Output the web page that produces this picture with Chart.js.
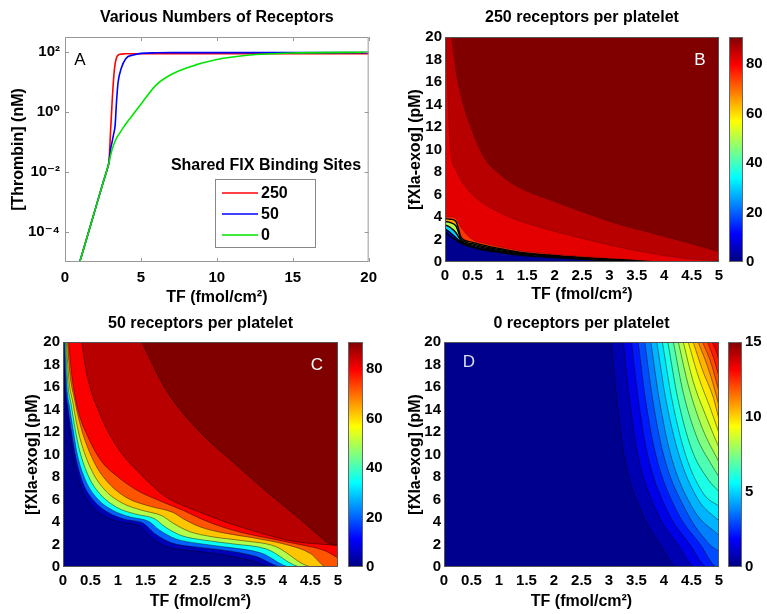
<!DOCTYPE html>
<html>
<head>
<meta charset="utf-8">
<script src="https://cdn.jsdelivr.net/npm/chart.js@4.4.1/dist/chart.umd.min.js"></script>
<style>
  html, body { margin: 0; padding: 0; background: #fff; }
  #fig { position: relative; width: 767px; height: 614px; overflow: hidden; }
  .panel { position: absolute; }
</style>
</head>
<body>
<div id="fig">
  <div class="panel" style="left:0;top:0;width:384px;height:307px"><canvas id="chartA"></canvas></div>
  <div class="panel" style="left:384px;top:0;width:345px;height:307px"><canvas id="chartB"></canvas></div>
  <div class="panel" style="left:700px;top:0;width:67px;height:307px"><canvas id="cbarB"></canvas></div>
  <div class="panel" style="left:0;top:307px;width:384px;height:307px"><canvas id="chartC"></canvas></div>
  <div class="panel" style="left:320px;top:307px;width:64px;height:307px"><canvas id="cbarC"></canvas></div>
  <div class="panel" style="left:384px;top:307px;width:345px;height:307px"><canvas id="chartD"></canvas></div>
  <div class="panel" style="left:700px;top:307px;width:67px;height:307px"><canvas id="cbarD"></canvas></div>
</div>
<script>
// ---- panel A : thrombin vs TF (log y) ----
const tfA = [0.97, 1.5, 2, 2.5, 2.8, 2.9, 3.0, 3.1, 3.2, 3.3, 3.4, 3.5, 3.7, 4, 4.5, 5, 6, 7, 8, 10, 12, 15, 20];
const thrombin250 = [1e-5, 8.1e-5, 5.9e-4, 4.3e-3, 1.35e-2, 2.3e-2, 0.22, 2.0, 12.6, 40, 66, 79, 85, 87, 87, 87, 87, 87, 87, 87, 87, 87, 87];
const thrombin50  = [1e-5, 8.1e-5, 5.9e-4, 4.3e-3, 1.35e-2, 2.2e-2, 5.6e-2, 0.1, 0.18, 0.35, 2.5, 10, 28, 60, 80, 90, 94, 95, 95, 95, 95, 95, 95];
const thrombin0   = [1e-5, 8.1e-5, 5.9e-4, 4.3e-3, 1.35e-2, 2.1e-2, 3.5e-2, 5.6e-2, 7.9e-2, 0.105, 0.138, 0.166, 0.234, 0.398, 0.85, 1.82, 7.9, 17.8, 29.5, 56, 78, 93, 98];
const tfTicksA = [0, 5, 10, 15, 20];
const thrombinTicks = [1e-4, 1e-2, 1, 100];
const thrombinTickLabels = ['10⁻⁴', '10⁻²', '10⁰', '10²'];

// ---- shared contour axes ----
const tfTicks = [0, 0.5, 1, 1.5, 2, 2.5, 3, 3.5, 4, 4.5, 5];
const fxiaTicks = [0, 2, 4, 6, 8, 10, 12, 14, 16, 18, 20];

// ---- panel B : 250 receptors (levels on a shared TF grid near the bottom) ----
const bTF    = [0, 0.1, 0.2, 0.3, 0.5, 0.7, 1, 1.3, 1.9, 2.5, 3, 3.5, 3.9, 5];
const bFXIa10 = [2.7, 2.3, 1.95, 1.66, 1.3, 1.07, 0.85, 0.63, 0.41, 0.24, 0.14, 0.05, 0, 0];
const bFXIa30 = [2.95, 2.6, 2.15, 1.75, 1.4, 1.17, 0.93, 0.7, 0.46, 0.28, 0.17, 0.07, 0, 0];
const bFXIa50 = [3.3, 3.05, 2.6, 1.85, 1.5, 1.27, 1.0, 0.77, 0.51, 0.32, 0.2, 0.09, 0.01, 0];
const bFXIa65 = [3.6, 3.5, 3.2, 1.98, 1.62, 1.38, 1.1, 0.85, 0.57, 0.37, 0.24, 0.12, 0.02, 0];
const bFXIa75 = [3.85, 3.8, 3.6, 2.15, 1.75, 1.5, 1.2, 0.92, 0.62, 0.41, 0.28, 0.15, 0.03, 0];
const bFXIa82 = [4.0, 4.0, 3.85, 3.0, 2.0, 1.68, 1.35, 1.05, 0.72, 0.48, 0.33, 0.18, 0.05, 0];
const bLine86 = [[0.02,20],[0.05,15],[0.1,10],[0.2,8.2],[0.3,7.2],[0.5,6.0],[0.7,5.2],[1,4.4],[1.3,3.75],[1.9,2.85],[2.5,2.1],[3.1,1.4],[3.75,0.77],[4.36,0.33],[5,0.1]];
const bLine91 = [[0.12,20],[0.2,17],[0.3,14.6],[0.47,12],[0.71,9.3],[1,7.8],[1.32,6.7],[1.93,5.5],[2.54,4.4],[3.1,3.45],[3.75,2.6],[4.36,1.8],[5,0.92]];
const bLevels = [10, 30, 50, 65, 75, 82, 86, 91];
const bMax = 91;
const bBarTicks = [0, 20, 40, 60, 80];

// ---- panel C : 50 receptors ----
const cLine5  = [[0.01,20],[0.03,16.5],[0.06,14.2],[0.13,11.8],[0.19,9.8],[0.31,7.4],[0.49,5.66],[0.73,4.6],[1.04,4.0],[1.4,3.6],[1.58,2.7],[1.89,1.8],[2.25,1.5],[2.79,1.18],[3.4,0.6],[3.85,0],[5,0]];
const cLine20 = [[0.02,20],[0.05,16],[0.09,14.2],[0.16,11.8],[0.23,9.8],[0.36,7.5],[0.56,5.9],[0.82,4.85],[1.12,4.25],[1.47,3.85],[1.66,3.0],[1.97,2.15],[2.37,1.8],[2.92,1.5],[3.5,0.95],[4.0,0],[5,0]];
const cLine35 = [[0.03,20],[0.07,16],[0.12,14.2],[0.19,12],[0.26,10],[0.41,7.7],[0.62,6.1],[0.9,5.05],[1.22,4.45],[1.56,4.05],[1.75,3.3],[2.05,2.5],[2.45,2.1],[3.0,1.75],[3.6,1.25],[4.15,0],[5,0]];
const cLine50 = [[0.045,20],[0.09,16.2],[0.15,14.4],[0.22,12.3],[0.3,10.4],[0.47,8.0],[0.69,6.4],[0.98,5.3],[1.32,4.7],[1.66,4.3],[1.86,3.55],[2.15,2.8],[2.55,2.4],[3.1,2.05],[3.7,1.6],[4.35,0],[5,0]];
const cLine62 = [[0.06,20],[0.11,16.5],[0.18,14.6],[0.25,12.7],[0.34,10.9],[0.53,8.5],[0.76,6.85],[1.07,5.7],[1.43,5.05],[1.8,4.55],[2.0,3.9],[2.3,3.15],[2.7,2.7],[3.25,2.35],[3.85,1.85],[4.55,0],[5,0]];
const cLine72 = [[0.08,20],[0.13,17],[0.21,14.9],[0.29,13.1],[0.39,11.4],[0.6,9.0],[0.86,7.3],[1.18,6.1],[1.58,5.4],[2.0,4.85],[2.2,4.25],[2.5,3.55],[2.9,3.05],[3.45,2.6],[4.05,2.0],[4.5,1.2],[4.8,0],[5,0]];
const cLine80 = [[0.1,20],[0.16,17],[0.27,14],[0.45,11.6],[0.7,9.4],[1.0,8.0],[1.35,6.8],[1.8,5.8],[2.2,5.0],[2.5,4.3],[2.9,3.55],[3.3,3.0],[3.8,2.5],[4.3,2.0],[4.76,1.45],[5,0.8]];
const cLine86 = [[0.34,20],[0.43,17.2],[0.67,13.6],[0.98,10.7],[1.4,8.3],[1.88,6.2],[2.25,5.33],[2.79,4.3],[3.1,3.75],[3.5,3.15],[3.9,2.6],[4.3,2.2],[4.76,2.0],[5,1.9]];
const cLine91 = [[1.43,20],[1.88,15.7],[2.49,12],[3.1,9.3],[3.7,6.7],[4.3,4.3],[4.7,2.6],[4.85,2.05],[5,1.98]];
const cLevels = [5, 20, 35, 50, 62, 72, 80, 86, 91];
const cMax = 91;
const cBarTicks = [0, 20, 40, 60, 80];

// ---- panel D : 0 receptors ----
const dLines = [
  [[3.04,20],[3.14,15],[3.27,10],[3.58,5],[3.93,2],[4.24,0],[5,0]],
  [[3.26,20],[3.37,15],[3.52,10],[3.86,5],[4.25,2],[4.57,0],[5,0]],
  [[3.41,20],[3.53,15],[3.7,10],[4.06,5],[4.47,2],[4.79,0],[5,0]],
  [[3.53,20],[3.66,15],[3.85,10],[4.23,5],[4.66,2],[4.97,0],[5,0]],
  [[3.65,20],[3.79,15],[3.99,10],[4.4,5],[4.83,2],[5,1.4]],
  [[3.76,20],[3.91,15],[4.12,10],[4.55,5],[5,2.8]],
  [[3.87,20],[4.03,15],[4.27,10],[4.62,6],[5,4.1]],
  [[3.97,20],[4.14,15],[4.39,10],[4.72,6.5],[5,5.4]],
  [[4.07,20],[4.25,15],[4.5,10.5],[4.8,7.8],[5,6.7]],
  [[4.17,20],[4.35,15.5],[4.6,11.5],[4.85,9.2],[5,8.0]],
  [[4.26,20],[4.45,16],[4.7,12.3],[5,9.3]],
  [[4.35,20],[4.53,16.5],[4.78,13.2],[5,10.6]],
  [[4.44,20],[4.62,17],[4.85,14],[5,11.9]],
  [[4.53,20],[4.7,17.5],[4.9,15],[5,13.1]],
  [[4.62,20],[4.78,18],[4.92,15.8],[5,14.3]],
  [[4.70,20],[4.85,18.2],[5,15.6]],
  [[4.79,20],[4.9,18.6],[5,16.9]],
  [[4.87,20],[4.95,19.2],[5,18.3]]
];
const dLevels = [0.75, 1.5, 2.25, 3, 3.75, 4.5, 5.25, 6, 6.75, 7.5, 8.25, 9, 9.75, 10.5, 11.25, 12, 12.75, 13.5];
const dMax = 15;
const dBarTicks = [0, 5, 10, 15];

// ---- style ----
const FONT = "'Liberation Sans', Arial, Helvetica, 'DejaVu Sans', sans-serif";
Chart.defaults.font.family = FONT;
Chart.defaults.font.size = 15;
Chart.defaults.font.weight = 'bold';
Chart.defaults.color = '#000';
Chart.defaults.animation = false;
Chart.defaults.responsive = true;
Chart.defaults.maintainAspectRatio = false;
Chart.defaults.plugins.legend.display = false;
Chart.defaults.plugins.tooltip.enabled = false;

function jet(t) {
  t = Math.min(1, Math.max(0, t));
  const c = v => Math.round(255 * Math.min(1, Math.max(0, v)));
  return 'rgb(' + c(1.5 - Math.abs(4 * t - 3)) + ',' + c(1.5 - Math.abs(4 * t - 2)) + ',' + c(1.5 - Math.abs(4 * t - 1)) + ')';
}
function jetGradient(chart) {
  const a = chart.chartArea;
  if (!a) return jet(0.5);
  const g = chart.ctx.createLinearGradient(0, a.bottom, 0, a.top);
  [0, 0.125, 0.375, 0.625, 0.875, 1].forEach(s => g.addColorStop(s, jet(s)));
  return g;
}
const pairs = (xs, ys) => xs.map((x, i) => ({ x: x, y: ys[i] }));
const pts = list => list.map(p => ({ x: p[0], y: p[1] }));

function levelSet(data, value, cmax, line, width) {
  return {
    data: data,
    backgroundColor: jet(value / cmax),
    borderColor: line,
    borderWidth: width,
    fill: 'end',
    pointRadius: 0,
    cubicInterpolationMode: 'monotone',
    order: -value
  };
}

// titles, frame, panel letter, background
const panelDecor = {
  id: 'panelDecor',
  beforeDatasetsDraw(chart, args, o) {
    const a = chart.chartArea, ctx = chart.ctx;
    if (o.background) {
      ctx.save();
      ctx.fillStyle = o.background;
      ctx.fillRect(a.left, a.top, a.right - a.left, a.bottom - a.top);
      ctx.restore();
    }
  },
  afterDatasetsDraw(chart, args, o) {
    const a = chart.chartArea, ctx = chart.ctx;
    ctx.save();
    if (o.frame) {
      ctx.strokeStyle = o.frame;
      ctx.lineWidth = 1;
      ctx.strokeRect(a.left + 0.5, a.top + 0.5, a.right - a.left - 1, a.bottom - a.top - 1);
    }
    if (o.innerTicks) {
      ctx.beginPath();
      chart.scales.x.ticks.forEach(t => {
        const px = Math.round(chart.scales.x.getPixelForValue(t.value)) + 0.5;
        ctx.moveTo(px, a.bottom); ctx.lineTo(px, a.bottom - 4);
        ctx.moveTo(px, a.top); ctx.lineTo(px, a.top + 4);
      });
      chart.scales.y.ticks.forEach(t => {
        const py = Math.round(chart.scales.y.getPixelForValue(t.value)) + 0.5;
        ctx.moveTo(a.left, py); ctx.lineTo(a.left + 4, py);
        ctx.moveTo(a.right, py); ctx.lineTo(a.right - 4, py);
      });
      ctx.stroke();
    }
    if (o.letter) {
      ctx.font = '17px ' + FONT;
      ctx.fillStyle = o.letterColor;
      ctx.textAlign = 'center';
      ctx.textBaseline = 'middle';
      const lx = o.letterDx >= 0 ? a.left + o.letterDx : a.right + o.letterDx;
      ctx.fillText(o.letter, lx, a.top + o.letterDy);
    }
    if (o.title) {
      ctx.font = 'bold 16px ' + FONT;
      ctx.fillStyle = '#000';
      ctx.textAlign = 'center';
      ctx.textBaseline = 'middle';
      ctx.fillText(o.title, (a.left + a.right) / 2, a.top - o.titleGap);
    }
    ctx.restore();
  }
};

// legend box drawn inside panel A
const boxLegend = {
  id: 'boxLegend',
  afterDatasetsDraw(chart, args, o) {
    const a = chart.chartArea, ctx = chart.ctx;
    const bx = a.left + 150, by = a.top + 142, bw = 100, bh = 68;
    ctx.save();
    ctx.fillStyle = '#fff';
    ctx.fillRect(bx, by, bw, bh);
    ctx.strokeStyle = '#888';
    ctx.lineWidth = 1;
    ctx.strokeRect(bx + 0.5, by + 0.5, bw, bh);
    ctx.font = 'bold 16px ' + FONT;
    ctx.fillStyle = '#000';
    ctx.textAlign = 'center';
    ctx.textBaseline = 'middle';
    ctx.fillText(o.title, bx + bw / 2 + 1, by - 13);
    ctx.textAlign = 'left';
    chart.data.datasets.forEach((ds, i) => {
      const y = by + 14 + i * 21;
      ctx.strokeStyle = ds.borderColor;
      ctx.lineWidth = 1.6;
      ctx.beginPath();
      ctx.moveTo(bx + 7, y); ctx.lineTo(bx + 43, y);
      ctx.stroke();
      ctx.fillText(ds.label, bx + 46, y + 1);
    });
    ctx.restore();
  }
};

const noGrid = { display: false, drawTicks: false };

function contourScales(yWidth, xHeight, yTitlePad, xTitlePad) {
  return {
    x: {
      type: 'linear', min: 0, max: 5,
      afterBuildTicks: s => { s.ticks = tfTicks.map(v => ({ value: v })); },
      afterFit: s => { s.height = xHeight; },
      grid: noGrid, border: { display: false },
      ticks: { callback: v => String(v), padding: 5, maxRotation: 0, autoSkip: false },
      title: { display: true, text: 'TF (fmol/cm²)', font: { size: 16 }, padding: { top: 0, bottom: xTitlePad } }
    },
    y: {
      type: 'linear', min: 0, max: 20,
      afterBuildTicks: s => { s.ticks = fxiaTicks.map(v => ({ value: v })); },
      afterFit: s => { s.width = yWidth; },
      grid: noGrid, border: { display: false },
      ticks: { padding: 3, autoSkip: false },
      title: { display: true, text: '[fXIa-exog] (pM)', font: { size: 16 }, padding: { top: yTitlePad, bottom: 0 } }
    }
  };
}

function colorbar(id, cmax, ticks, yWidth, pad) {
  new Chart(document.getElementById(id), {
    type: 'bar',
    data: { labels: [''], datasets: [{ data: [cmax], backgroundColor: c => jetGradient(c.chart), borderWidth: 0, barPercentage: 1, categoryPercentage: 1 }] },
    options: {
      layout: { padding: pad },
      scales: {
        x: { display: false },
        y: {
          position: 'right', min: 0, max: cmax,
          afterBuildTicks: s => { s.ticks = ticks.map(v => ({ value: v })); },
          afterFit: s => { s.width = yWidth; },
          grid: noGrid, border: { display: false },
          ticks: { padding: 3 }
        }
      },
      plugins: { panelDecor: { frame: '#666' } }
    },
    plugins: [panelDecor]
  });
}

// ---- A ----
new Chart(document.getElementById('chartA'), {
  type: 'line',
  data: {
    datasets: [
      { label: '250', data: pairs(tfA, thrombin250), borderColor: '#ff0000', order: 3 },
      { label: '50', data: pairs(tfA, thrombin50), borderColor: '#0000ff', order: 2 },
      { label: '0', data: pairs(tfA, thrombin0), borderColor: '#00e600', order: 1 }
    ]
  },
  options: {
    layout: { padding: { top: 37, right: 9, left: 0, bottom: 0 } },
    elements: { point: { radius: 0 }, line: { borderWidth: 1.6, cubicInterpolationMode: 'monotone' } },
    scales: {
      x: {
        type: 'linear', min: 0, max: 20,
        afterBuildTicks: s => { s.ticks = tfTicksA.map(v => ({ value: v })); },
        afterFit: s => { s.height = 45; },
        grid: noGrid, border: { display: false },
        ticks: { padding: 7, maxRotation: 0 },
        title: { display: true, text: 'TF (fmol/cm²)', font: { size: 16 }, padding: { top: 0, bottom: 0 } }
      },
      y: {
        type: 'logarithmic', min: 1e-5, max: 316,
        afterBuildTicks: s => { s.ticks = thrombinTicks.map(v => ({ value: v })); },
        afterFit: s => { s.width = 65; },
        grid: noGrid, border: { display: false },
        ticks: { padding: 5, callback: (v, i) => thrombinTickLabels[i] },
        title: { display: true, text: '[Thrombin] (nM)', font: { size: 16 }, padding: { top: 9, bottom: 0 } }
      }
    },
    plugins: {
      panelDecor: { title: 'Various Numbers of Receptors', titleGap: 19, frame: '#999', innerTicks: true, letter: 'A', letterColor: '#000', letterDx: 15, letterDy: 23 },
      boxLegend: { title: 'Shared FIX Binding Sites' }
    }
  },
  plugins: [panelDecor, boxLegend]
});

// ---- B ----
const bCurves = [pairs(bTF, bFXIa10), pairs(bTF, bFXIa30), pairs(bTF, bFXIa50), pairs(bTF, bFXIa65), pairs(bTF, bFXIa75), pairs(bTF, bFXIa82), pts(bLine86), pts(bLine91)];
new Chart(document.getElementById('chartB'), {
  type: 'line',
  data: { datasets: bCurves.map((d, i) => levelSet(d, bLevels[i], bMax, i < 5 ? '#000' : 'rgba(60,0,0,0.5)', i < 5 ? 1.4 : 0.6)) },
  options: {
    layout: { padding: { top: 37, right: 10, left: 0, bottom: 0 } },
    scales: contourScales(61, 45, 22, 3),
    plugins: { panelDecor: { title: '250 receptors per platelet', titleGap: 19, background: jet(0.015), frame: '#555', letter: 'B', letterColor: '#fff', letterDx: -19, letterDy: 23 } }
  },
  plugins: [panelDecor]
});
colorbar('cbarB', bMax, bBarTicks, 24, { left: 29, top: 37, bottom: 45, right: 0 });

// ---- C ----
const cCurves = [cLine5, cLine20, cLine35, cLine50, cLine62, cLine72, cLine80, cLine86, cLine91];
new Chart(document.getElementById('chartC'), {
  type: 'line',
  data: { datasets: cCurves.map((d, i) => levelSet(pts(d), cLevels[i], cMax, 'rgba(0,0,0,0.55)', 0.8)) },
  options: {
    layout: { padding: { top: 35, right: 46, left: 0, bottom: 0 } },
    scales: contourScales(63, 47, 23, 3),
    plugins: { panelDecor: { title: '50 receptors per platelet', titleGap: 18, background: jet(0.015), frame: '#555', letter: 'C', letterColor: '#fff', letterDx: -21, letterDy: 23 } }
  },
  plugins: [panelDecor]
});
colorbar('cbarC', cMax, cBarTicks, 21, { left: 28, top: 35, bottom: 47, right: 0 });

// ---- D ----
new Chart(document.getElementById('chartD'), {
  type: 'line',
  data: { datasets: dLines.map((d, i) => levelSet(pts(d), dLevels[i], dMax, 'rgba(0,0,0,0.55)', 0.8)) },
  options: {
    layout: { padding: { top: 35, right: 10, left: 0, bottom: 0 } },
    scales: contourScales(60, 47, 22, 3),
    plugins: { panelDecor: { title: '0 receptors per platelet', titleGap: 18, background: jet(0.015), frame: '#555', letter: 'D', letterColor: '#dde', letterDx: 25, letterDy: 20 } }
  },
  plugins: [panelDecor]
});
colorbar('cbarD', dMax, dBarTicks, 25, { left: 28, top: 35, bottom: 47, right: 0 });
</script>
</body>
</html>
